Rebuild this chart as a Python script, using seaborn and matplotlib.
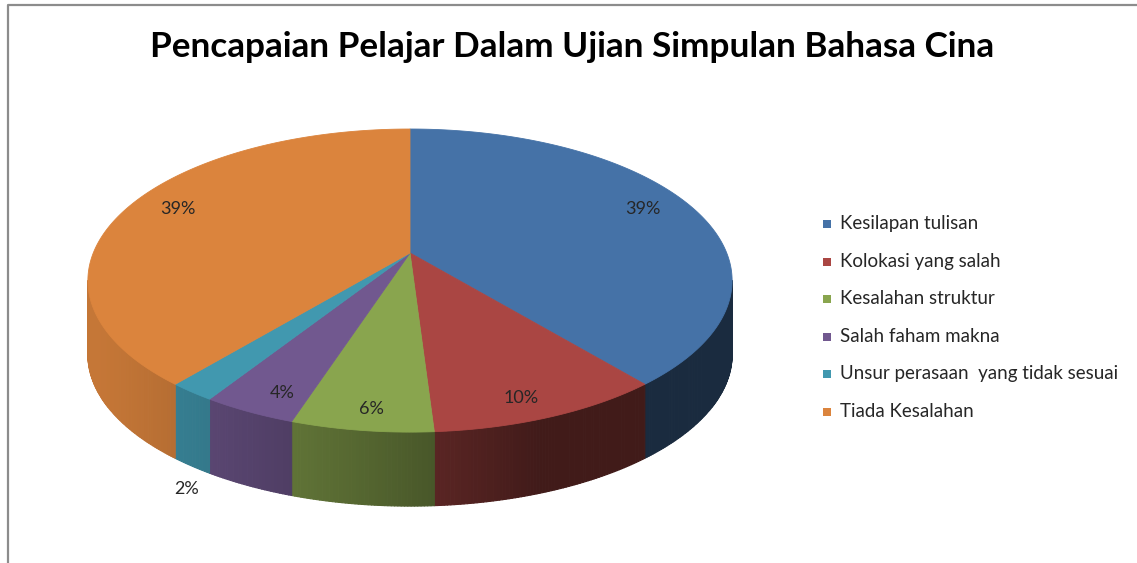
import numpy as np
import matplotlib
matplotlib.use("Agg")
import matplotlib.pyplot as plt
from matplotlib.collections import PolyCollection
from matplotlib.colors import to_rgb
import seaborn as sns

# chart data
title = "Pencapaian Pelajar Dalam Ujian Simpulan Bahasa Cina"
categories = [
    "Kesilapan tulisan",
    "Kolokasi yang salah",
    "Kesalahan struktur",
    "Salah faham makna",
    "Unsur perasaan  yang tidak sesuai",
    "Tiada Kesalahan",
]
percent = [39, 10, 6, 4, 2, 39]
colors = ["#4572a7", "#aa4643", "#89a54e", "#71588f", "#4198af", "#db843d"]

sns.set_style("white")
plt.rcParams["font.family"] = ["Lato", "DejaVu Sans"]

W, H = 1137, 563
fig = plt.figure(figsize=(W / 100, H / 100), dpi=100)
ax = fig.add_axes([0, 0, 1, 1])
ax.set_xlim(0, W)
ax.set_ylim(H, 0)
ax.axis("off")

# 3D pie geometry (tilted disc seen in perspective), pixel units
CX, CY = 410, 253
D, C = 4.9, 0.891
FX, FY = 1552, 718
DEPTH = 74


def project(t_deg, r=1.0):
    t = np.radians(t_deg)
    x, y = r * np.cos(t), r * np.sin(t)
    w = D + C * y
    return CX + FX * x / w, CY - FY * y / w


def shade(col, t_deg):
    # light from the left: darker walls toward the right
    u = np.radians(np.asarray(t_deg) + 180 - 20)
    f = 0.38 + 0.52 * np.clip(np.cos(u), 0, None)
    return np.clip(np.array(to_rgb(col)) * f, 0, 1)


total = sum(percent)
bounds = 90 - 360 * np.cumsum([0] + percent) / total
t_sil = np.degrees(np.arcsin(-C / D))  # right silhouette (about -10.5 deg)
front_hi, front_lo = t_sil, -180 - t_sil

# side walls
quads, qcols = [], []
for i, col in enumerate(colors):
    hi = min(bounds[i], front_hi)
    lo = max(bounds[i + 1], front_lo)
    if hi <= lo:
        continue
    ts = np.linspace(hi, lo, int((hi - lo) * 2) + 2)
    xs, ys = project(ts)
    for j in range(len(ts) - 1):
        quads.append([(xs[j], ys[j]), (xs[j + 1], ys[j + 1]),
                      (xs[j + 1], ys[j + 1] + DEPTH), (xs[j], ys[j] + DEPTH)])
        qcols.append(shade(col, (ts[j] + ts[j + 1]) / 2))
ax.add_collection(PolyCollection(quads, facecolors=qcols, edgecolors=qcols,
                                 linewidths=0.8, zorder=1))

# top faces
for i, col in enumerate(colors):
    t0, t1 = bounds[i], bounds[i + 1]
    ts = np.linspace(t0, t1, int(abs(t0 - t1) * 2) + 2)
    xs, ys = project(ts)
    ax.fill(np.r_[CX, xs], np.r_[CY, ys], color=col, lw=0.6, zorder=2)

# percentage labels
for i, p in enumerate(percent):
    mid = (bounds[i] + bounds[i + 1]) / 2
    if p < 3:
        lx, ly = project(mid, 1.02)
        ly += DEPTH + 20
    else:
        lx, ly = project(mid, 0.82)
        ly -= 16 * np.sin(np.radians(mid))
    ax.text(lx, ly, f"{p}%", ha="center", va="center", fontsize=13,
            color="#262626", zorder=3)

# legend
for i, (cat, col) in enumerate(zip(categories, colors)):
    y = 224 + 37.5 * i
    ax.scatter(827, y, marker="s", s=40, color=col, linewidths=0, zorder=3)
    ax.text(840, y, cat, ha="left", va="center", fontsize=13.5, color="#262626")

ax.text(572, 47, title, ha="center", va="center", fontsize=25.3,
        fontweight="bold", color="black")

# chart border
ax.plot([8, 8, W + 5], [H + 5, 4.5, 4.5], color="#8c8c8c", lw=1.6,
        clip_on=False, zorder=4)

fig.savefig("out.png", dpi=100)
